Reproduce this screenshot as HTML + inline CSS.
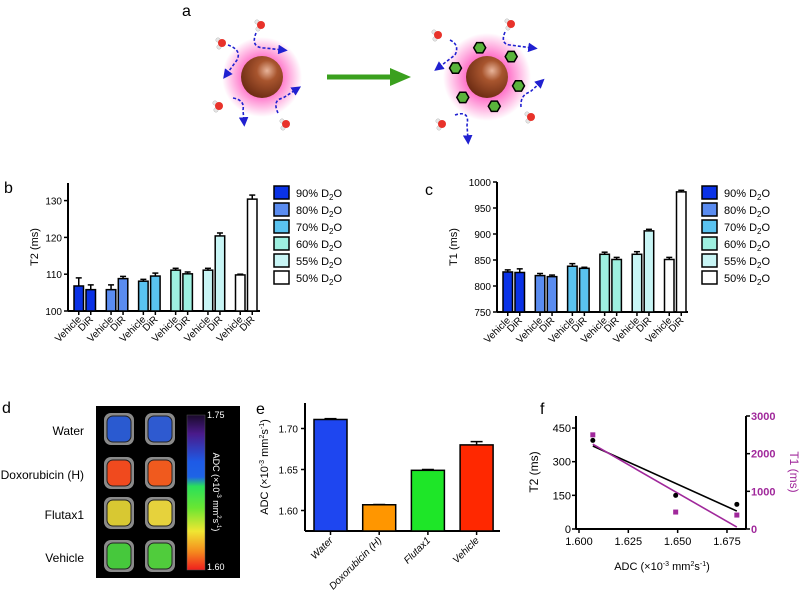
<!DOCTYPE html>
<html><head><meta charset="utf-8"><style>
body{margin:0;background:#fff}
svg{display:block;font-family:"Liberation Sans",Arial,sans-serif}
</style></head><body>
<svg id="fig" width="800" height="592" viewBox="0 0 800 592" xmlns="http://www.w3.org/2000/svg">
<defs>
<radialGradient id="glow"><stop offset="0.45" stop-color="#ff3cb4" stop-opacity="0.75"/><stop offset="1" stop-color="#ff3cb4" stop-opacity="0"/></radialGradient>
<radialGradient id="ball" cx="0.62" cy="0.35" r="0.7"><stop offset="0" stop-color="#e8b49a"/><stop offset="0.35" stop-color="#a8552e"/><stop offset="1" stop-color="#6a2a12"/></radialGradient>
<linearGradient id="cbar" x1="0" y1="0" x2="0" y2="1">
<stop offset="0" stop-color="#1a0a2a"/><stop offset="0.12" stop-color="#4a1a8a"/><stop offset="0.3" stop-color="#1e5ae6"/><stop offset="0.4" stop-color="#1e64e6"/><stop offset="0.46" stop-color="#2ae05a"/><stop offset="0.6" stop-color="#6ae632"/><stop offset="0.75" stop-color="#f0e632"/><stop offset="0.88" stop-color="#f58c1e"/><stop offset="1" stop-color="#f01e1e"/></linearGradient>
<marker id="ah" markerWidth="6" markerHeight="6" refX="3" refY="3" orient="auto"><path d="M0,0 L6,3 L0,6 z" fill="#2020d0"/></marker>
</defs>

<g>
<text x="182" y="16" font-size="16">a</text>
<circle cx="262" cy="77" r="40" fill="url(#glow)"/>
<circle cx="262" cy="77" r="21" fill="url(#ball)"/>
<circle cx="487" cy="77" r="44" fill="url(#glow)"/>
<circle cx="487" cy="77" r="21" fill="url(#ball)"/>
<g id="hexes"></g>
<path d="M327,77 L392,77" stroke="#3aa01e" stroke-width="5"/>
<path d="M390,68 L411,77 L390,86 z" fill="#3aa01e"/>
<g fill="none" stroke="#2020d0" stroke-width="1.6" stroke-dasharray="3,2" marker-end="url(#ah)">
<path d="M256,33 Q250,48 265,48 L283,50"/><path d="M228,45 Q242,50 237,60 L226,75"/>
<path d="M233,98 Q245,100 243,110 L244,122"/><path d="M278,113 Q272,100 283,98 L297,89"/>
<path d="M450,40 Q460,45 455,55 L438,68"/><path d="M505,32 Q500,44 510,45 L533,48"/>
<path d="M521,107 Q520,95 530,92 L541,82"/><path d="M455,115 Q470,110 467,125 L468,140"/>
</g>
<g id="waters"></g>
</g>

<g id="panelB"><text x="4" y="193" font-size="16">b</text></g>
<g id="panelC"><text x="425" y="195" font-size="16">c</text></g>

<g>
<text x="2" y="413" font-size="16">d</text>
<rect x="96" y="406" width="144" height="172" fill="#000"/>
<g id="wells"></g>
<rect x="187" y="415" width="18" height="155" fill="url(#cbar)" stroke="#555" stroke-width="0.5"/>
<text x="207" y="418" font-size="9" fill="#fff">1.75</text>
<text x="207" y="570" font-size="9" fill="#fff">1.60</text>
<text transform="translate(213,492) rotate(90)" text-anchor="middle" font-size="9" fill="#fff">ADC (×10<tspan font-size="6" dy="-4">-3</tspan><tspan dy="4"> mm</tspan><tspan font-size="6" dy="-4">2</tspan><tspan dy="4">s</tspan><tspan font-size="6" dy="-4">-1</tspan><tspan dy="4">)</tspan></text>
<g font-size="12" text-anchor="end">
<text x="84" y="435">Water</text>
<text x="84" y="479">Doxorubicin (H)</text>
<text x="84" y="519">Flutax1</text>
<text x="84" y="562">Vehicle</text>
</g>
</g>

<g id="panelE"><text x="256" y="414" font-size="16">e</text></g>
<g id="panelF"><text x="540" y="414" font-size="16">f</text></g>
</svg>
<script>
const NS="http://www.w3.org/2000/svg";
// Panel b data
const bGroups=["90% D2O","80% D2O","70% D2O","60% D2O","55% D2O","50% D2O"];
const bVehicle=[106.8,105.8,108.1,111.1,111.1,109.8];
const bVehicleErr=[2.2,1.3,0.5,0.5,0.5,0.2];
const bDiR=[105.8,108.8,109.5,110.1,120.4,130.4];
const bDiRErr=[1.3,0.6,0.8,0.5,0.8,1.1];
const bTicks=[100,110,120,130];
// Panel c data
const cVehicle=[827,820,838,861,861,851];
const cVehicleErr=[4,4,5,4,5,4];
const cDiR=[826,818,834,851,906,981];
const cDiRErr=[7,3,2,4,3,3];
const cTicks=[750,800,850,900,950,1000];
const groupColors=["#0a32e6","#5a8cf0","#5ac3f0","#9ef0e0","#c8f5f5","#ffffff"];
// Panel e data
const eCats=["Water","Doxorubicin (H)","Flutax1","Vehicle"];
const eVals=[1.711,1.607,1.649,1.680];
const eErr=[0.001,0.0003,0.001,0.004];
const eTicks=[1.60,1.65,1.70];
const eColors=["#1e46f0","#ff9600","#1ee628","#ff2800"];
// Panel f data
const fX=[1.607,1.649,1.680];
const fT2=[395,150,110];
const fT1=[2500,450,370];
const fT2Fit=[370,80];
const fT1Fit=[2250,50];
const fXTicks=[1.600,1.625,1.650,1.675];
const fT2Ticks=[0,150,300,450];
const fT1Ticks=[0,1000,2000,3000];

function el(tag,attrs,parent,text){const e=document.createElementNS(NS,tag);for(const k in attrs)e.setAttribute(k,attrs[k]);if(text!==undefined)e.textContent=text;parent.appendChild(e);return e;}

// water molecules
(function(){const g=document.getElementById("waters");
 [[261,25],[222,43],[219,106],[286,124],[438,35],[511,24],[531,117],[442,124]].forEach(([x,y])=>{
  el("circle",{cx:x-4,cy:y-3,r:2.2,fill:"#e6e6e6",stroke:"#aaa","stroke-width":0.4},g);
  el("circle",{cx:x-3,cy:y+4,r:2.2,fill:"#e6e6e6",stroke:"#aaa","stroke-width":0.4},g);
  const m=el("circle",{cx:x,cy:y,r:4,fill:"#e8322a"},g);
  
  });})();

function groupedPanel(gid,opt){
  const g=document.getElementById(gid);
  const y=v=>opt.y0-(v-opt.vmin)*opt.ppu;
  const axL=el("line",{x1:opt.ax,y1:opt.top,x2:opt.ax,y2:opt.y0,stroke:"#000","stroke-width":2},g);
  
  
  const axB=el("line",{x1:opt.ax,y1:opt.y0,x2:opt.axEnd,y2:opt.y0,stroke:"#000","stroke-width":2},g);
  
  
  opt.ticks.forEach(t=>{
    el("line",{x1:opt.ax-4,y1:y(t),x2:opt.ax,y2:y(t),stroke:"#000","stroke-width":1.5},g);
    const tl=el("text",{x:opt.ax-6,y:y(t)+4,"font-size":10,"text-anchor":"end"},g,String(t));
    
    
  });
  const yt=el("text",{transform:`translate(${opt.ax-opt.ylOff},${(opt.top+opt.y0)/2}) rotate(-90)`,"font-size":11,"text-anchor":"middle"},g,opt.ylabel);
  
  
  for(let i=0;i<opt.v.length;i++){
    [[opt.v[i],opt.ve[i],0,"Vehicle"],[opt.d[i],opt.de[i],1,"DiR"]].forEach(([val,err,k,lab])=>{
      const x=opt.x0+i*opt.gs+k*opt.bs;
      el("line",{x1:x+opt.bw/2,y1:y(val+err),x2:x+opt.bw/2,y2:y(val),stroke:"#000","stroke-width":1.5},g);
      el("line",{x1:x+opt.bw/2-3,y1:y(val+err),x2:x+opt.bw/2+3,y2:y(val+err),stroke:"#000","stroke-width":1.5},g);
      const r=el("rect",{x:x,y:y(val),width:opt.bw,height:opt.y0-y(val),fill:groupColors[i],stroke:"#000","stroke-width":1.5},g);
      
      
      const cx=x+opt.bw/2;
      el("line",{x1:cx,y1:opt.y0,x2:cx,y2:opt.y0+4,stroke:"#000","stroke-width":1.5},g);
      const t=el("text",{transform:`translate(${cx+3},${opt.y0+9}) rotate(-45)`,"font-size":10,"text-anchor":"end"},g,lab);
      
      
    });
  }
  bGroups.forEach((name,i)=>{
    const yy=opt.legY+i*17;
    const lr=el("rect",{x:opt.legX,y:yy,width:15,height:13,fill:groupColors[i],stroke:"#000","stroke-width":1.5},g);
    
    
    const lt=el("text",{x:opt.legX+22,y:yy+11,"font-size":11},g);
    
    
    lt.innerHTML=name.replace("D2O","D<tspan font-size='8' dy='3'>2</tspan><tspan dy='-3'>O</tspan>");
  });
}
groupedPanel("panelB",{ax:68,top:183,y0:311,axEnd:260,vmin:100,ppu:3.68,ticks:bTicks,v:bVehicle,ve:bVehicleErr,d:bDiR,de:bDiRErr,x0:74,gs:32.3,bs:12,bw:9.5,legX:274,legY:186,ylabel:"T2 (ms)",ylOff:30});
groupedPanel("panelC",{ax:497,top:182,y0:312,axEnd:688,vmin:750,ppu:0.52,ticks:cTicks,v:cVehicle,ve:cVehicleErr,d:cDiR,de:cDiRErr,x0:503,gs:32.3,bs:12,bw:9.5,legX:702,legY:186,ylabel:"T1 (ms)",ylOff:40});

// hexagons
(function(){const g=document.getElementById("hexes");
 for(let k=0;k<6;k++){const a=(-60+k*60)*Math.PI/180;const cx=487+33*Math.cos(a*1.0+0.3),cy=77+30*Math.sin(a+0.3);
  let p="";for(let j=0;j<6;j++){const b=j*Math.PI/3;p+=(j?"L":"M")+(cx+6*Math.cos(b)).toFixed(1)+","+(cy+6*Math.sin(b)).toFixed(1);}
  const h=el("path",{d:p+"z",fill:"#5ab43c",stroke:"#000","stroke-width":1.5},g);
  
  }})();

// wells
(function(){const g=document.getElementById("wells");
 const rows=[[413,["#2a5ad0","#2e5ad0"]],[457,["#f04a1e","#f05a1e"]],[497,["#d8c832","#e6d23c"]],[540,["#46c83c","#50cc3c"]]];
 rows.forEach(([ry,cols])=>{[104,145].forEach((cx,j)=>{
  el("rect",{x:cx,y:ry,width:30,height:32,rx:7,fill:"#8a8a8a"},g);
  const w=el("rect",{x:cx+3,y:ry+3,width:24,height:26,rx:6,fill:cols[j],stroke:"#222","stroke-width":1},g);
  
  });});})();

// panel e
(function(){const g=document.getElementById("panelE");
 const ax=305,y0=531,top=403,axEnd=500;const y=v=>y0-(v-1.575)*820;
 el("line",{x1:ax,y1:top,x2:ax,y2:y0,stroke:"#000","stroke-width":2},g);
 el("line",{x1:ax,y1:y0,x2:axEnd,y2:y0,stroke:"#000","stroke-width":2},g);
 eTicks.forEach(t=>{el("line",{x1:ax-4,y1:y(t),x2:ax,y2:y(t),stroke:"#000","stroke-width":1.5},g);
  const tl=el("text",{x:ax-7,y:y(t)+4,"font-size":10,"text-anchor":"end"},g,t.toFixed(2));
  
  });
 const yt=el("text",{transform:`translate(268,467) rotate(-90)`,"font-size":11,"text-anchor":"middle"},g);
 
 
 yt.innerHTML="ADC (×10<tspan font-size='7' dy='-4'>-3</tspan><tspan dy='4'> mm</tspan><tspan font-size='7' dy='-4'>2</tspan><tspan dy='4'>s</tspan><tspan font-size='7' dy='-4'>-1</tspan><tspan dy='4'>)</tspan>";
 eCats.forEach((c,i)=>{const x=314+i*48.7,w=33,cx=x+w/2;
  el("line",{x1:cx,y1:y(eVals[i]+eErr[i]),x2:cx,y2:y(eVals[i]),stroke:"#000","stroke-width":1.5},g);
  el("line",{x1:cx-6,y1:y(eVals[i]+eErr[i]),x2:cx+6,y2:y(eVals[i]+eErr[i]),stroke:"#000","stroke-width":1.5},g);
  const r=el("rect",{x:x,y:y(eVals[i]),width:w,height:y0-y(eVals[i]),fill:eColors[i],stroke:"#000","stroke-width":1.5},g);
  
  
  el("line",{x1:cx,y1:y0,x2:cx,y2:y0+4,stroke:"#000","stroke-width":1.5},g);
  const t=el("text",{transform:`translate(${cx+3},${y0+10}) rotate(-45)`,"font-size":10,"font-style":"italic","text-anchor":"end"},g,c);
  
  });})();

// panel f
(function(){const g=document.getElementById("panelF");
 const axL=576,axR=746,y0=529,top=416;
 const x=v=>579+(v-1.6)*1973;const yl=v=>y0-v*0.2244;const yr=v=>y0-v*0.03767;
 const a1=el("line",{x1:axL,y1:top,x2:axL,y2:y0,stroke:"#000","stroke-width":2},g);
 
 
 const a2=el("line",{x1:axR,y1:top,x2:axR,y2:y0,stroke:"#000","stroke-width":2},g);
 
 
 const a3=el("line",{x1:axL,y1:y0,x2:axR,y2:y0,stroke:"#000","stroke-width":2},g);
 
 
 fXTicks.forEach(t=>{el("line",{x1:x(t),y1:y0,x2:x(t),y2:y0+4,stroke:"#000","stroke-width":1.5},g);
  const tl=el("text",{x:x(t),y:y0+16,"font-size":11,"text-anchor":"middle"},g,t.toFixed(3));
  
  });
 fT2Ticks.forEach(t=>{el("line",{x1:axL-4,y1:yl(t),x2:axL,y2:yl(t),stroke:"#000","stroke-width":1.5},g);
  const tl=el("text",{x:axL-5,y:yl(t)+4,"font-size":11,"text-anchor":"end"},g,String(t));
  
  });
 fT1Ticks.forEach(t=>{el("line",{x1:axR,y1:yr(t),x2:axR+4,y2:yr(t),stroke:"#000","stroke-width":1.5},g);
  const tl=el("text",{x:axR+5,y:yr(t)+4,"font-size":11,"font-weight":"bold",fill:"#a0289b"},g,String(t));
  
  });
 const l1=el("line",{x1:x(fX[0]),y1:yl(fT2Fit[0]),x2:x(fX[2]),y2:yl(fT2Fit[1]),stroke:"#000","stroke-width":1.6},g);
 
 
 const l2=el("line",{x1:x(fX[0]),y1:yr(fT1Fit[0]),x2:x(fX[2]),y2:yr(fT1Fit[1]),stroke:"#a0289b","stroke-width":1.6},g);
 
 
 fX.forEach((v,i)=>{
  const c=el("circle",{cx:x(v),cy:yl(fT2[i]),r:2.5,fill:"#000"},g);
  
  
  const s=el("rect",{x:x(v)-2.5,y:yr(fT1[i])-2.5,width:5,height:5,fill:"#a0289b"},g);
  
  });
 const xt=el("text",{x:662,y:570,"font-size":11,"text-anchor":"middle"},g);
 
 
 xt.innerHTML="ADC (×10<tspan font-size='7' dy='-4'>-3</tspan><tspan dy='4'> mm</tspan><tspan font-size='7' dy='-4'>2</tspan><tspan dy='4'>s</tspan><tspan font-size='7' dy='-4'>-1</tspan><tspan dy='4'>)</tspan>";
 const t2=el("text",{transform:"translate(538,472) rotate(-90)","font-size":12,"text-anchor":"middle"},g,"T2 (ms)");
 
 
 const t1=el("text",{transform:"translate(790,472) rotate(90)","font-size":12,"text-anchor":"middle",fill:"#a0289b"},g,"T1 (ms)");
 
 })();
</script>
</body></html>
